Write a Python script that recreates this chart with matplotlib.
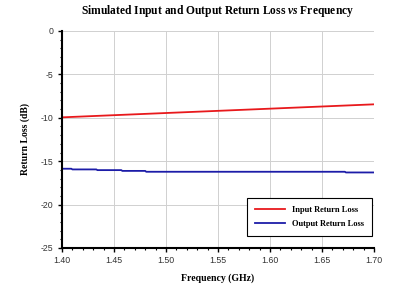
import matplotlib
matplotlib.use("Agg")
import matplotlib.pyplot as plt
from matplotlib.ticker import MultipleLocator

freq_in = [1.40, 1.45, 1.50, 1.55, 1.60, 1.65, 1.70]
input_rl = [-9.95, -9.70, -9.45, -9.20, -8.95, -8.70, -8.45]

freq_out = [1.400, 1.409, 1.410, 1.433, 1.434, 1.457, 1.458, 1.480, 1.481, 1.672, 1.673, 1.700]
output_rl = [-15.87, -15.87, -15.95, -15.95, -16.03, -16.03, -16.12, -16.12, -16.22, -16.22, -16.30, -16.30]

x_ticks = [1.40, 1.45, 1.50, 1.55, 1.60, 1.65, 1.70]
y_ticks = [0, -5, -10, -15, -20, -25]

plt.rcParams['mathtext.fontset'] = 'custom'
plt.rcParams['mathtext.it'] = 'Liberation Serif:italic:bold'
plt.rcParams['mathtext.rm'] = 'Liberation Serif'

fig = plt.figure(figsize=(4.0, 2.87), dpi=100)
ax = fig.add_axes([0.155, 0.136, 0.78, 0.756])

ax.plot(freq_in, input_rl, color='#e8191c', lw=1.3, label='Input Return Loss')
ax.plot(freq_out, output_rl, color='#1c1ca8', lw=1.3, label='Output Return Loss')

ax.set_xlim(1.40, 1.70)
ax.set_ylim(-25, 0)
ax.set_xticks(x_ticks)
ax.set_xticklabels([f"{v:.2f}" for v in x_ticks])
ax.set_yticks(y_ticks)
ax.set_yticklabels([str(v) for v in y_ticks])
ax.xaxis.set_minor_locator(MultipleLocator(0.01))
ax.yaxis.set_minor_locator(MultipleLocator(1))

ax.grid(True, which='major', color='#d0d0d0', lw=0.7)
ax.set_axisbelow(True)
for s in ['top', 'right']:
    ax.spines[s].set_visible(False)
for s in ['left', 'bottom']:
    ax.spines[s].set_linewidth(1.5)
    ax.spines[s].set_color('black')

ax.tick_params(axis='both', which='major', labelsize=6.3, length=3, width=1, colors='black', direction='out', pad=3)
ax.tick_params(axis='both', which='minor', length=1.5, width=0.8, direction='out')
for lab in ax.get_xticklabels() + ax.get_yticklabels():
    lab.set_family('Liberation Sans')
    lab.set_color('#333333')

ax.set_xlabel('Frequency (GHz)', family='Liberation Serif', fontsize=7, fontweight='bold', labelpad=6)
ax.set_ylabel('Return Loss (dB)', family='Liberation Serif', fontsize=7, fontweight='bold', labelpad=8)
ax.set_title(r'Simulated Input and Output Return Loss $\it{vs}$ Frequency', family='Liberation Serif',
             fontsize=8.3, fontweight='bold', pad=12)

leg = ax.legend(loc='lower right', bbox_to_anchor=(0.995, 0.055), prop={'family': 'Liberation Serif', 'size': 6, 'weight': 'bold'},
                fancybox=False, edgecolor='black', framealpha=1, handlelength=3.6, borderpad=1.0,
                labelspacing=0.7, borderaxespad=0)
leg.get_frame().set_linewidth(0.8)

fig.savefig('out.png', dpi=100)
